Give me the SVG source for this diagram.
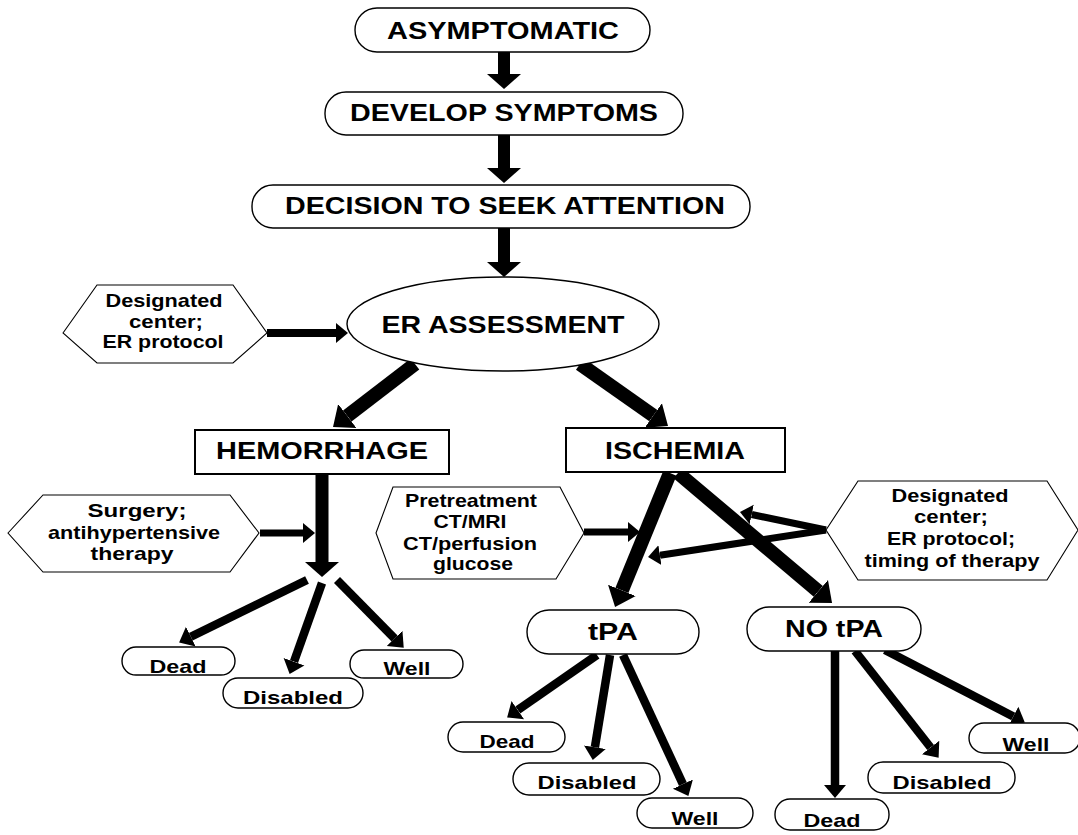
<svg xmlns="http://www.w3.org/2000/svg" width="1078" height="835" viewBox="0 0 1078 835">
<style>
text{font-family:"Liberation Sans",Arial,sans-serif;font-weight:bold;fill:#000;text-anchor:middle}
.big{font-size:24px}
.sm{font-size:19px}
.pill{fill:#fff;stroke:#000;stroke-width:1.4}
.box{fill:#fff;stroke:#000;stroke-width:2}
.hex{fill:#fff;stroke:#000;stroke-width:1.1}
.c{stroke:#000;fill:none;stroke-linecap:butt}
.w12{stroke-width:12;marker-end:url(#hB)}
.w14{stroke-width:14;marker-end:url(#hM)}
.w13{stroke-width:13;marker-end:url(#hB)}
.w8{stroke-width:8;marker-end:url(#hS)}
.w9{stroke-width:8.5;marker-end:url(#hO)}
.w7{stroke-width:7;marker-end:url(#hS)}
</style>
<defs>
<marker id="hB" markerUnits="userSpaceOnUse" markerWidth="20" markerHeight="40" viewBox="0 -20 20 40" refX="0" refY="0" orient="auto"><path d="M0,-17 L15,0 L0,17 Z" fill="#000"/></marker>
<marker id="hM" markerUnits="userSpaceOnUse" markerWidth="22" markerHeight="36" viewBox="0 -18 22 36" refX="0" refY="0" orient="auto"><path d="M0,-15 L18,0 L0,15 Z" fill="#000"/></marker>
<marker id="hS" markerUnits="userSpaceOnUse" markerWidth="16" markerHeight="24" viewBox="0 -12 16 24" refX="0" refY="0" orient="auto"><path d="M0,-10 L12,0 L0,10 Z" fill="#000"/></marker>
<marker id="hO" markerUnits="userSpaceOnUse" markerWidth="18" markerHeight="26" viewBox="0 -13 18 26" refX="0" refY="0" orient="auto"><path d="M0,-11 L13,0 L0,11 Z" fill="#000"/></marker>
</defs>
<rect width="1078" height="835" fill="#fff"/>

<g id="connectors">
<line class="c w12" x1="504" y1="52" x2="504" y2="74"/>
<line class="c w12" x1="504" y1="135" x2="504" y2="168"/>
<line class="c w12" x1="504" y1="228" x2="504" y2="262"/>
<line class="c w8" x1="267" y1="333" x2="336" y2="333"/>
<line class="c w14" x1="415" y1="364" x2="347.3" y2="416"/>
<line class="c w14" x1="580" y1="364" x2="653.3" y2="415.6"/>
<line class="c w13" x1="322" y1="474" x2="322" y2="562"/>
<line class="c w7" x1="260" y1="533" x2="303" y2="533"/>
<line class="c w9" x1="307" y1="580" x2="190.8" y2="636.7"/>
<line class="c w9" x1="322" y1="583" x2="294" y2="661.7"/>
<line class="c w9" x1="337" y1="580" x2="394.6" y2="638.4"/>
<line class="c w14" x1="670" y1="473" x2="621.9" y2="590.4"/>
<line class="c w14" x1="678" y1="473" x2="818.3" y2="591.4"/>
<line class="c w7" x1="584" y1="532" x2="628" y2="532"/>
<line class="c w7" x1="826" y1="530" x2="751.7" y2="514.5"/>
<line class="c w7" x1="826" y1="530" x2="659.9" y2="555.2"/>
<line class="c w9" x1="597" y1="655" x2="517.8" y2="710.1"/>
<line class="c w9" x1="610" y1="655" x2="594.9" y2="747.2"/>
<line class="c w9" x1="623" y1="655" x2="682.9" y2="784.1"/>
<line class="c w9" x1="835" y1="651" x2="835" y2="785"/>
<line class="c w9" x1="855" y1="651" x2="930.6" y2="747.5"/>
<line class="c w9" x1="885" y1="650" x2="1013.3" y2="716.5"/>
</g>

<g id="asymptomatic"><rect class="pill" x="355" y="8" width="295" height="44" rx="22"/><text class="big" x="503" y="38.5" textLength="232" lengthAdjust="spacingAndGlyphs">ASYMPTOMATIC</text></g>
<g id="develop"><rect class="pill" x="325" y="92" width="358" height="43" rx="21"/><text class="big" x="504" y="121" textLength="308" lengthAdjust="spacingAndGlyphs">DEVELOP SYMPTOMS</text></g>
<g id="decision"><rect class="pill" x="252" y="185" width="498" height="43" rx="21"/><text class="big" x="505" y="214" textLength="440" lengthAdjust="spacingAndGlyphs">DECISION TO SEEK ATTENTION</text></g>
<g id="er"><ellipse class="pill" cx="503" cy="324" rx="156" ry="47"/><text class="big" x="503" y="332.5" textLength="243" lengthAdjust="spacingAndGlyphs">ER ASSESSMENT</text></g>
<g id="hex-er"><polygon class="hex" points="63,333 97,285 233,285 267,333 233,363 97,363"/>
<text class="sm" x="164" y="307" textLength="117" lengthAdjust="spacingAndGlyphs">Designated</text>
<text class="sm" x="166" y="328" textLength="74" lengthAdjust="spacingAndGlyphs">center;</text>
<text class="sm" x="163" y="348" textLength="121" lengthAdjust="spacingAndGlyphs">ER protocol</text></g>
<g id="hemorrhage"><rect class="box" x="195" y="430" width="254" height="44"/><text class="big" x="322" y="459" textLength="212" lengthAdjust="spacingAndGlyphs">HEMORRHAGE</text></g>
<g id="ischemia"><rect class="box" x="566" y="428" width="219" height="44"/><text class="big" x="675" y="458.5" textLength="140" lengthAdjust="spacingAndGlyphs">ISCHEMIA</text></g>
<g id="hex-surgery"><polygon class="hex" points="8,533 43,495 230,495 259,533 230,572 43,572"/>
<text class="sm" x="137" y="517" textLength="99" lengthAdjust="spacingAndGlyphs">Surgery;</text>
<text class="sm" x="134" y="539" textLength="172" lengthAdjust="spacingAndGlyphs">antihypertensive</text>
<text class="sm" x="132" y="560" textLength="83" lengthAdjust="spacingAndGlyphs">therapy</text></g>
<g id="hex-pretreatment"><polygon class="hex" points="376,533 393,487 560,487 584,533 556,579 393,579"/>
<text class="sm" x="471" y="507" textLength="132" lengthAdjust="spacingAndGlyphs">Pretreatment</text>
<text class="sm" x="470" y="528" textLength="73" lengthAdjust="spacingAndGlyphs">CT/MRI</text>
<text class="sm" x="470" y="550" textLength="134" lengthAdjust="spacingAndGlyphs">CT/perfusion</text>
<text class="sm" x="473" y="570" textLength="80" lengthAdjust="spacingAndGlyphs">glucose</text></g>
<g id="hex-timing"><polygon class="hex" points="826,530 858,481 1047,481 1078,530 1047,580 858,580"/>
<text class="sm" x="950" y="502" textLength="117" lengthAdjust="spacingAndGlyphs">Designated</text>
<text class="sm" x="951" y="523" textLength="74" lengthAdjust="spacingAndGlyphs">center;</text>
<text class="sm" x="951" y="545" textLength="128" lengthAdjust="spacingAndGlyphs">ER protocol;</text>
<text class="sm" x="952" y="567" textLength="175" lengthAdjust="spacingAndGlyphs">timing of therapy</text></g>
<g id="tpa"><rect class="pill" x="527" y="610" width="172" height="44" rx="22"/><text class="big" x="613" y="640" textLength="50" lengthAdjust="spacingAndGlyphs">tPA</text></g>
<g id="notpa"><rect class="pill" x="747" y="607" width="174" height="44" rx="22"/><text class="big" x="834" y="637" textLength="98" lengthAdjust="spacingAndGlyphs">NO tPA</text></g>
<g id="hem-dead"><rect class="pill" x="122" y="647" width="113" height="28" rx="14"/><text class="sm" x="178" y="673" textLength="57" lengthAdjust="spacingAndGlyphs">Dead</text></g>
<g id="hem-disabled"><rect class="pill" x="223" y="678" width="140" height="30" rx="15"/><text class="sm" x="293" y="704" textLength="100" lengthAdjust="spacingAndGlyphs">Disabled</text></g>
<g id="hem-well"><rect class="pill" x="350" y="650" width="113" height="28" rx="14"/><text class="sm" x="407" y="675" textLength="47" lengthAdjust="spacingAndGlyphs">Well</text></g>
<g id="tpa-dead"><rect class="pill" x="448" y="722" width="117" height="30" rx="15"/><text class="sm" x="507" y="748" textLength="55" lengthAdjust="spacingAndGlyphs">Dead</text></g>
<g id="tpa-disabled"><rect class="pill" x="513" y="763" width="147" height="32" rx="16"/><text class="sm" x="587" y="789" textLength="99" lengthAdjust="spacingAndGlyphs">Disabled</text></g>
<g id="tpa-well"><rect class="pill" x="637" y="798" width="116" height="30" rx="15"/><text class="sm" x="695" y="825" textLength="47" lengthAdjust="spacingAndGlyphs">Well</text></g>
<g id="notpa-dead"><rect class="pill" x="775" y="799" width="114" height="31" rx="15"/><text class="sm" x="832" y="827" textLength="57" lengthAdjust="spacingAndGlyphs">Dead</text></g>
<g id="notpa-disabled"><rect class="pill" x="868" y="762" width="147" height="31" rx="15"/><text class="sm" x="942" y="789" textLength="99" lengthAdjust="spacingAndGlyphs">Disabled</text></g>
<g id="notpa-well"><rect class="pill" x="969" y="723" width="111" height="30" rx="15"/><text class="sm" x="1026" y="751" textLength="47" lengthAdjust="spacingAndGlyphs">Well</text></g>
</svg>
